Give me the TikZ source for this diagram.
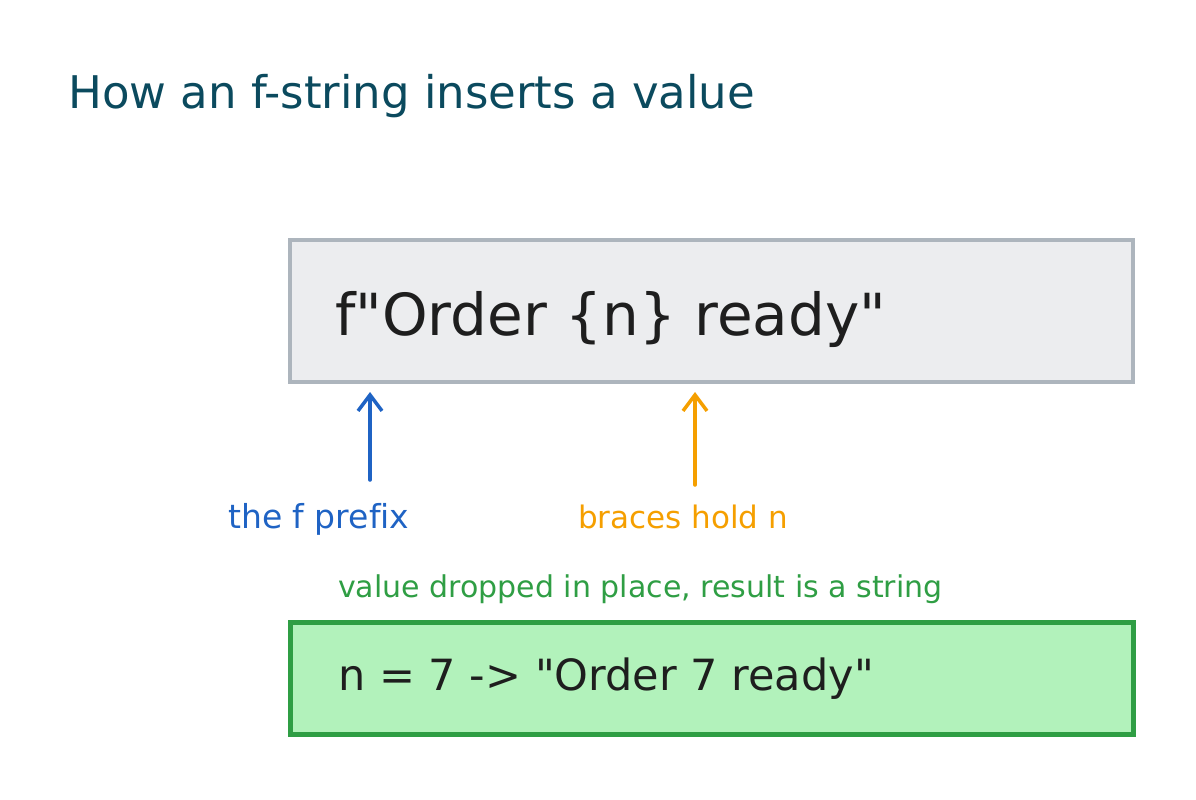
\documentclass[tikz,border=0pt]{standalone}
\usepackage{fontspec}
\setmainfont[Ligatures={TeXOff,NoCommon}]{DejaVu Sans}
\usetikzlibrary{arrows.meta}
\definecolor{titlec}{HTML}{0B4A5E}
\definecolor{boxfill}{HTML}{ECEDEF}
\definecolor{boxdraw}{HTML}{ADB5BD}
\definecolor{bluec}{HTML}{1F63C4}
\definecolor{orangec}{HTML}{F59F00}
\definecolor{greenc}{HTML}{2F9E44}
\definecolor{greenfill}{HTML}{B2F2BB}
\definecolor{inkc}{HTML}{1E1E1E}
\tikzset{
  fs/.style={font=\fontsize{#1}{#1}\selectfont},
  box/.style={line width=4pt, minimum width=843pt, anchor=north west, inner sep=0pt},
  lbl/.style={anchor=base west, inner sep=0pt},
  uparrow/.style={line width=3.5pt, line cap=round, -{Straight Barb[length=16pt,width=24pt,line width=3.5pt]}, shorten >=8pt}
}
\begin{document}
\begin{tikzpicture}[x=1pt,y=-1pt]
\useasboundingbox (0,0) rectangle (1196,800);
\node[lbl, fs=45, text=titlec] (title) at (68,108) {How an f-string inserts a value};
\node[box, draw=boxdraw, fill=boxfill, minimum height=142pt] (top) at (288,238) {};
\node[lbl, fs=58, text=inkc] (code) at (335,335) {f"Order \{n\} ready"};
\node[box, draw=greenc, line width=5pt, fill=greenfill, minimum height=112pt] (bottom) at (288,620) {};
\node[lbl, fs=43, text=inkc] (res) at (338,690) {n = 7 -> "Order 7 ready"};
\node[lbl, fs=33, text=bluec] (fl) at (228,528) {the f pref{}ix};
\node[lbl, fs=31, text=orangec] (bl) at (578,528) {braces hold n};
\node[lbl, fs=30, text=greenc] (gl) at (338,597) {value dropped in place, result is a string};
\coordinate (ft) at (370,480);
\coordinate (bt) at (695,485);
\draw[uparrow, bluec] (ft) -- (ft |- top.south);
\draw[uparrow, orangec] (bt) -- (bt |- top.south);
\end{tikzpicture}
\end{document}
